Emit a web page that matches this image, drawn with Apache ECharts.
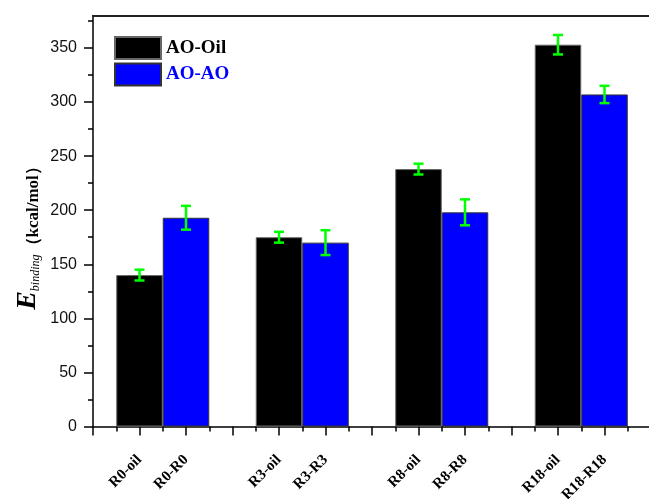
<!DOCTYPE html>
<html>
<head>
<meta charset="utf-8">
<script src="https://cdn.jsdelivr.net/npm/echarts@6/dist/echarts.min.js"></script>
<style>
html,body{margin:0;padding:0;background:#fff;}
#chart{width:649px;height:499px;}
</style>
</head>
<body>
<div id="chart"></div>
<script>
var oilLabels = ['R0-oil', 'R3-oil', 'R8-oil', 'R18-oil'];
var aoLabels = ['R0-R0', 'R3-R3', 'R8-R8', 'R18-R18'];
var oilValues = [140, 175, 238, 353];
var oilErrors = [5, 5, 5, 9];
var aoValues = [193, 170, 198, 307];
var aoErrors = [11, 11.5, 12, 8];
var yMajorTicks = [0, 50, 100, 150, 200, 250, 300, 350];
var yMinorTicks = [25, 75, 125, 175, 225, 275, 325, 375];

// each group takes 3 slots on the x axis: oil bar, AO bar, gap
var labelMap = {};
var oilData = [], aoData = [], errData = [];
for (var i = 0; i < oilValues.length; i++) {
	var xo = i * 3 + 1, xa = i * 3 + 2;
	labelMap[xo] = oilLabels[i];
	labelMap[xa] = aoLabels[i];
	oilData.push([xo, oilValues[i]]);
	aoData.push([xa, aoValues[i]]);
	errData.push([xo, oilValues[i] - oilErrors[i], oilValues[i] + oilErrors[i]]);
	errData.push([xa, aoValues[i] - aoErrors[i], aoValues[i] + aoErrors[i]]);
}

function renderErr(params, api){
	var x = api.value(0);
	var lo = api.coord([x, api.value(1)]);
	var hi = api.coord([x, api.value(2)]);
	var w = 5;
	var st = {stroke: '#00ff00', lineWidth: 2.5};
	return {
		type: 'group',
		children: [
			{type: 'line', shape: {x1: hi[0], y1: hi[1], x2: lo[0], y2: lo[1]}, style: st},
			{type: 'line', shape: {x1: hi[0] - w, y1: hi[1], x2: hi[0] + w, y2: hi[1]}, style: st},
			{type: 'line', shape: {x1: lo[0] - w, y1: lo[1], x2: lo[0] + w, y2: lo[1]}, style: st}
		]
	};
}

var chart = echarts.init(document.getElementById('chart'));
var axisStyle = {color: '#000', width: 1.5};
option = {
	animation: false,
	grid: {left: 93, right: -2, top: 15.5, bottom: 72.5, outerBoundsMode: 'none', containLabel: false},
	legend: {
		orient: 'vertical',
		left: 114,
		top: 36,
		padding: 0,
		itemWidth: 46,
		itemHeight: 22,
		itemGap: 2.5,
		icon: 'rect',
		textStyle: {fontFamily: 'Liberation Serif', fontWeight: 'bold', fontSize: 19, lineHeight: 22},
		data: [
			{name: 'AO-Oil', textStyle: {color: '#000'}},
			{name: 'AO-AO', textStyle: {color: '#0000ff'}}
		]
	},
	graphic: [{
		type: 'text',
		x: 27,
		y: 234,
		rotation: Math.PI / 2,
		style: {
			text: '{e|E}{s|binding}{u|（kcal/mol）}',
			textAlign: 'center',
			textVerticalAlign: 'middle',
			rich: {
				e: {fontFamily: 'Liberation Serif', fontStyle: 'italic', fontWeight: 'bold', fontSize: 28, verticalAlign: 'bottom', lineHeight: 30, fill: '#000'},
				s: {fontFamily: 'Liberation Serif', fontStyle: 'italic', fontSize: 12, verticalAlign: 'bottom', lineHeight: 10, fill: '#000'},
				u: {fontFamily: 'Liberation Serif', fontWeight: 'bold', fontSize: 17, verticalAlign: 'bottom', lineHeight: 24, fill: '#000'}
			}
		}
	}],
	xAxis: [{
		type: 'value',
		min: 0,
		max: 12,
		interval: 1,
		axisLine: {lineStyle: axisStyle},
		axisTick: {length: 9, lineStyle: axisStyle},
		minorTick: {show: true, splitNumber: 2, length: 5, lineStyle: axisStyle},
		splitLine: {show: false},
		axisLabel: {
			rotate: 45,
			margin: 31,
			fontFamily: 'Liberation Serif',
			fontWeight: 'bold',
			fontSize: 15,
			color: '#000',
			formatter: function(v){ return labelMap[v] || ''; }
		}
	}, {
		type: 'value',
		position: 'top',
		min: 0,
		max: 12,
		axisLine: {show: true, onZero: false, lineStyle: {color: '#222', width: 2}},
		axisTick: {show: false},
		axisLabel: {show: false},
		splitLine: {show: false}
	}],
	yAxis: [{
		type: 'value',
		min: 0,
		max: 380,
		interval: 50,
		axisLine: {show: true, onZero: false, lineStyle: axisStyle},
		axisTick: {show: true, length: 9, lineStyle: axisStyle, customValues: yMajorTicks},
		splitLine: {show: false},
		axisLabel: {
			margin: 16,
			fontFamily: 'Liberation Sans',
			fontSize: 16,
			color: '#111',
			customValues: yMajorTicks
		}
	}, {
		type: 'value',
		position: 'left',
		min: 0,
		max: 380,
		interval: 25,
		axisLine: {show: false},
		axisTick: {show: true, length: 5, lineStyle: axisStyle, customValues: yMinorTicks},
		axisLabel: {show: false},
		splitLine: {show: false}
	}],
	series: [{
		name: 'AO-Oil',
		type: 'bar',
		barWidth: 46.5,
		barGap: '-100%',
		data: oilData,
		itemStyle: {color: '#000', borderColor: '#666', borderWidth: 1}
	}, {
		name: 'AO-AO',
		type: 'bar',
		barWidth: 46.5,
		barGap: '-100%',
		data: aoData,
		itemStyle: {color: '#0000ff', borderColor: '#333', borderWidth: 1}
	}, {
		type: 'custom',
		renderItem: renderErr,
		encode: {x: 0, y: [1, 2]},
		data: errData,
		z: 5
	}]
};
chart.setOption(option);
</script>
</body>
</html>
